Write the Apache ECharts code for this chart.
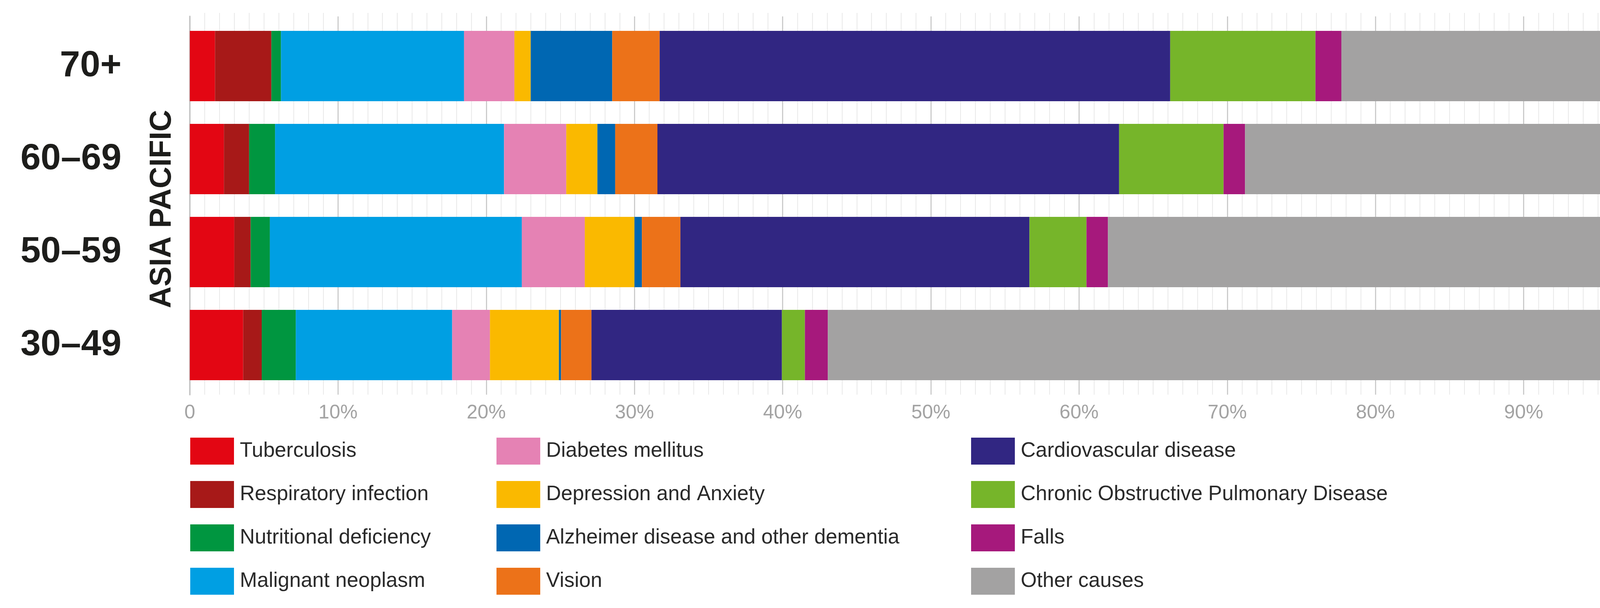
<!DOCTYPE html>
<html>
<head>
<meta charset="utf-8">
<script src="https://cdn.jsdelivr.net/npm/echarts@6/dist/echarts.min.js"></script>
<style>html,body{margin:0;padding:0;background:#fff;}#c{width:4390px;height:1556px;}</style>
</head>
<body>
<div id="c"></div>
<script>
// Categories (bottom to top)
const categories = ['30–49', '50–59', '60–69', '70+'];
const tickLabels = ['0', '10%', '20%', '30%', '40%', '50%', '60%', '70%', '80%', '90%', '100%'];
const regionLabel = 'ASIA PACIFIC';

// Series values (% share) per category: 30–49, 50–59, 60–69, 70+
const tuberculosis   = [3.6, 3.0, 2.3, 1.7];
const respiratory    = [1.25, 1.1, 1.7, 3.8];
const nutritional    = [2.3, 1.3, 1.75, 0.65];
const malignant      = [10.55, 17.0, 15.45, 12.35];
const diabetes       = [2.55, 4.25, 4.2, 3.4];
const depression     = [4.65, 3.35, 2.1, 1.1];
const alzheimer      = [0.15, 0.5, 1.2, 5.5];
const vision         = [2.05, 2.6, 2.85, 3.2];
const cardiovascular = [12.85, 23.55, 31.15, 34.45];
const copd           = [1.55, 3.85, 7.05, 9.8];
const falls          = [1.55, 1.45, 1.45, 1.75];
const otherCauses    = [56.95, 38.05, 28.8, 22.3];

const seriesNames = ['Tuberculosis', 'Respiratory infection', 'Nutritional deficiency', 'Malignant neoplasm',
  'Diabetes mellitus', 'Depression and Anxiety', 'Alzheimer disease and other dementia', 'Vision',
  'Cardiovascular disease', 'Chronic Obstructive Pulmonary Disease', 'Falls', 'Other causes'];
const seriesValues = [tuberculosis, respiratory, nutritional, malignant, diabetes, depression, alzheimer,
  vision, cardiovascular, copd, falls, otherCauses];
const seriesColors = ['#E30613', '#A71918', '#009640', '#009FE3', '#E582B4', '#FAB900', '#0067B2',
  '#EC7219', '#312682', '#76B52A', '#A6197C', '#A3A2A2'];

const chart = echarts.init(document.getElementById('c'));
const W = 4390, H = 1556;
const gridLeft = 486, gridRight = W - 4280;

const series = seriesNames.map((n, i) => ({
  name: n, type: 'bar', stack: 'total', xAxisIndex: 2, yAxisIndex: 2,
  data: seriesValues[i], barCategoryGap: '24.4%',
  itemStyle: { color: seriesColors[i] }, emphasis: { disabled: true }
}));

const legendBase = {
  orient: 'vertical', top: 1120, padding: 0, itemWidth: 112, itemHeight: 69, itemGap: 42,
  icon: 'rect', selectedMode: false,
  textStyle: { fontFamily: 'Liberation Sans', fontSize: 53, color: '#2a2a2a', padding: [0, 0, 0, 10] }
};

chart.setOption({
  animation: false,
  backgroundColor: '#ffffff',
  color: seriesColors,
  grid: [
    { left: gridLeft, right: gridRight, top: 33, bottom: H - 1010 },
    { left: gridLeft, right: gridRight, top: 42, bottom: H - 1010 },
    { left: gridLeft, right: gridRight, top: 50, bottom: H - 1002 }
  ],
  xAxis: [
    { gridIndex: 0, type: 'value', min: 0, max: 100, interval: 10,
      axisLine: { show: false }, axisTick: { show: false }, axisLabel: { show: false },
      splitLine: { show: false },
      minorTick: { show: false, splitNumber: 10 },
      minorSplitLine: { show: true, lineStyle: { color: '#e9e9e9', width: 2 } } },
    { gridIndex: 1, type: 'value', min: 0, max: 100, interval: 10,
      axisLine: { show: false }, axisTick: { show: false },
      axisLabel: { show: true, margin: 22, fontFamily: 'Liberation Sans', fontSize: 50, color: '#a3a3a3',
        formatter: (v) => tickLabels[Math.round(v / 10)] },
      splitLine: { show: true, lineStyle: { color: '#cccccc', width: 3 } } },
    { gridIndex: 2, type: 'value', min: 0, max: 100, show: false, splitLine: { show: false } }
  ],
  yAxis: [
    { gridIndex: 0, type: 'category', data: categories, show: false },
    { gridIndex: 1, type: 'category', data: categories, offset: gridLeft - 337,
      axisLine: { show: true, lineStyle: { color: '#c8c8c8', width: 4 } },
      axisTick: { show: false }, axisLabel: { show: false }, splitLine: { show: false } },
    { gridIndex: 2, type: 'category', data: categories,
      axisLine: { show: false }, axisTick: { show: false }, splitLine: { show: false },
      axisLabel: { show: true, margin: gridLeft - 311, fontFamily: 'Liberation Sans', fontWeight: 'bold',
        fontSize: 93, color: '#1d1d1b' } }
  ],
  legend: [
    Object.assign({}, legendBase, { left: 487, data: seriesNames.slice(0, 4) }),
    Object.assign({}, legendBase, { left: 1271, data: seriesNames.slice(4, 8) }),
    Object.assign({}, legendBase, { left: 2486, data: seriesNames.slice(8, 12) })
  ],
  graphic: [
    { type: 'text', x: 416, y: 535, rotation: Math.PI / 2,
      style: { text: regionLabel, fontFamily: 'Liberation Sans', fontWeight: 'bold', fontSize: 77,
        fill: '#1d1d1b', align: 'center', verticalAlign: 'middle' } }
  ],
  series: series
});
</script>
</body>
</html>
